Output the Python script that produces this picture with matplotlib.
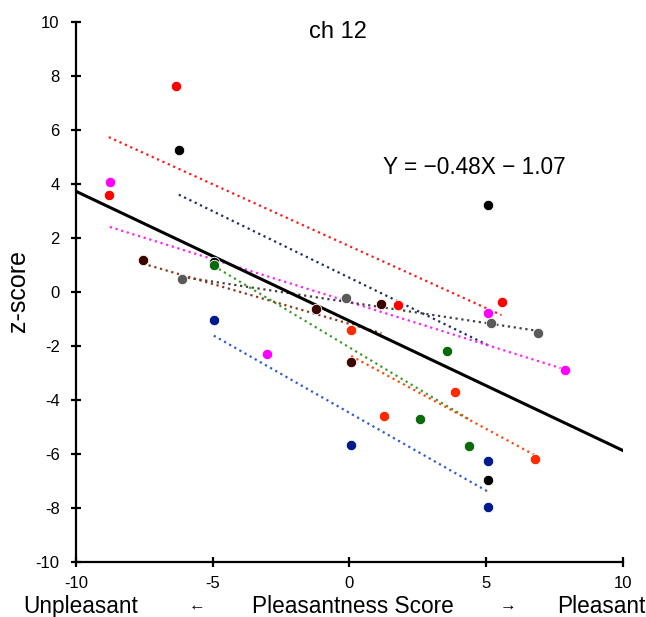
import numpy as np
import matplotlib
matplotlib.use("Agg")
import matplotlib.pyplot as plt

plt.rcParams['font.family'] = ['Liberation Sans', 'DejaVu Sans']
plt.rcParams['axes.unicode_minus'] = False

# data, one group per colour
red_x = [-8.8, -6.35, 1.79, 5.56]
red_y = [3.6, 7.62, -0.49, -0.36]
black_x = [-6.24, -4.96, 5.08, 5.08]
black_y = [5.27, 1.1, 3.23, -6.97]
magenta_x = [-8.76, -3.03, 5.07, 7.88]
magenta_y = [4.09, -2.28, -0.77, -2.88]
gray_x = [-6.13, -0.12, 5.18, 6.89]
gray_y = [0.48, -0.22, -1.15, -1.53]
brown_x = [-7.55, -1.24, 1.17, 0.06]
brown_y = [1.18, -0.63, -0.43, -2.6]
green_x = [-4.96, 3.58, 2.57, 4.38]
green_y = [1.0, -2.18, -4.71, -5.71]
orange_x = [0.06, 1.28, 3.87, 6.79]
orange_y = [-1.41, -4.59, -3.72, -6.18]
navy_x = [-4.96, 0.06, 5.08, 5.08]
navy_y = [-1.03, -5.68, -6.25, -7.97]

# overall fit shown on the chart
fit_slope = -0.48
fit_intercept = -1.07

xs = [red_x, black_x, magenta_x, gray_x, brown_x, green_x, orange_x, navy_x]
ys = [red_y, black_y, magenta_y, gray_y, brown_y, green_y, orange_y, navy_y]
dot_colors = ['#ff0000', '#000000', '#ff00ff', '#5a5a5a', '#3d0500', '#0a6a0a', '#ff2a00', '#001a8c']
line_colors = ['#ff1a1a', '#1f3060', '#ff22ff', '#404040', '#8a3a18', '#3a9a2a', '#ff4a10', '#2f5bd5']

fig = plt.figure(figsize=(6.46, 6.17), dpi=100)
ax = fig.add_axes([0.1176, 0.0891, 0.8467, 0.8752])

for x, y, dc, lc in zip(xs, ys, dot_colors, line_colors):
    x = np.array(x)
    y = np.array(y)
    m, b = np.polyfit(x, y, 1)
    tx = np.array([x.min(), x.max()])
    ax.plot(tx, m * tx + b, linestyle=':', color=lc, lw=1.6, zorder=2)
    ax.plot(x, y, 'o', color=dc, ms=7.5, mec='white', mew=0.6, zorder=4)

fx = np.array([-10, 10])
ax.plot(fx, fit_slope * fx + fit_intercept, color='black', lw=2.2, zorder=3)

ax.set_xlim(-10, 10)
ax.set_ylim(-10, 10)
ax.set_xticks([-10, -5, 0, 5, 10])
ax.set_yticks(np.arange(-10, 11, 2))
for s in ['top', 'right']:
    ax.spines[s].set_visible(False)
for s in ['left', 'bottom']:
    ax.spines[s].set_linewidth(1.6)
ax.tick_params(direction='inout', length=7.5, width=1.6, labelsize=12)
ax.tick_params(axis='y', pad=8)
ax.tick_params(axis='x', pad=6)

# y label placed by hand so it sits where the reference has it
fig.text(18 / 646, 1 - 291 / 617, 'z-score', rotation=90, ha='center', va='center', fontsize=18)

fig.text(337.5 / 646, 1 - 32 / 617, 'ch 12', ha='center', va='center', fontsize=17)
ax.text(4.56, 4.6, 'Y = \u22120.48X \u2212 1.07', ha='center', va='center', fontsize=16.3)

base = 4 / 617
fig.text(23 / 646, base, 'Unpleasant', ha='left', va='baseline', fontsize=16.3)
fig.text(197 / 646, 11 / 617, '\u2190', ha='center', va='center', fontsize=12)
fig.text(352.5 / 646, base, 'Pleasantness Score', ha='center', va='baseline', fontsize=16.3)
fig.text(508 / 646, 11 / 617, '\u2192', ha='center', va='center', fontsize=12)
fig.text(645 / 646, base, 'Pleasant', ha='right', va='baseline', fontsize=16.3)

fig.savefig('out.png', dpi=100)
